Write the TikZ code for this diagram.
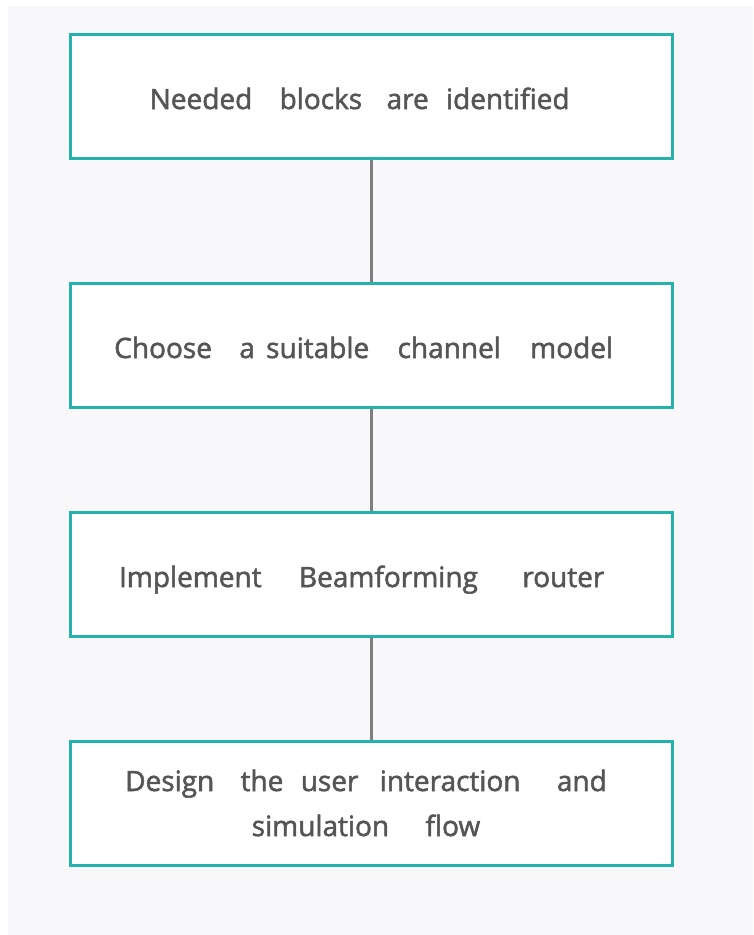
\documentclass[tikz,border=0pt]{standalone}
\usepackage{fontspec}
\setmainfont[FakeBold=1.8]{Open Sans}
\definecolor{panel}{HTML}{F8F8FA}
\definecolor{boxedge}{HTML}{26B2AC}
\definecolor{wire}{HTML}{7F7F7F}
\definecolor{ink}{HTML}{555555}
% widened word spacing, in pt
\newcommand\wgap[1]{\hspace{#1pt}}
\begin{document}
\begin{tikzpicture}[x=0.75pt,y=-0.75pt,
  stepbox/.style={draw=boxedge, line width=2.25pt, fill=white,
    minimum width=451.5pt, minimum height=93pt, inner sep=0pt,
    text=ink, font=\fontsize{21}{33.75}\selectfont},
  oneline/.style={text height=19.5pt, text depth=0pt},
  link/.style={draw=wire, line width=2.25pt}]
  % page and panel
  \fill[white] (0,0) rectangle (753,935);
  \fill[panel] (8,6) rectangle (753,935);
  \useasboundingbox (0,0) rectangle (753,935);

  % steps
  \node[stepbox, oneline] (s1) at (371,96)
    {Needed\wgap{20.5}blocks\wgap{18.3}are\wgap{13}identified\kern17pt};
  \node[stepbox, oneline] (s2) at (371,345)
    {Choose\wgap{20.5}a\wgap{8.5}suitable\wgap{21.3}channel\wgap{22}model\kern11pt};
  \node[stepbox, oneline] (s3) at (371,574)
    {Implement\wgap{28}Beamforming\wgap{33.3}router\kern14pt};
  \node[stepbox, align=center] (s4) at (371,803)
    {Design\wgap{19.8}the\wgap{13}user\wgap{16}interaction\wgap{27.3}and\kern7.5pt\\
     simulation\wgap{27.3}flow\kern7.5pt};

  % connectors
  \draw[link] (s1.south) -- (s2.north);
  \draw[link] (s2.south) -- (s3.north);
  \draw[link] (s3.south) -- (s4.north);
\end{tikzpicture}
\end{document}
